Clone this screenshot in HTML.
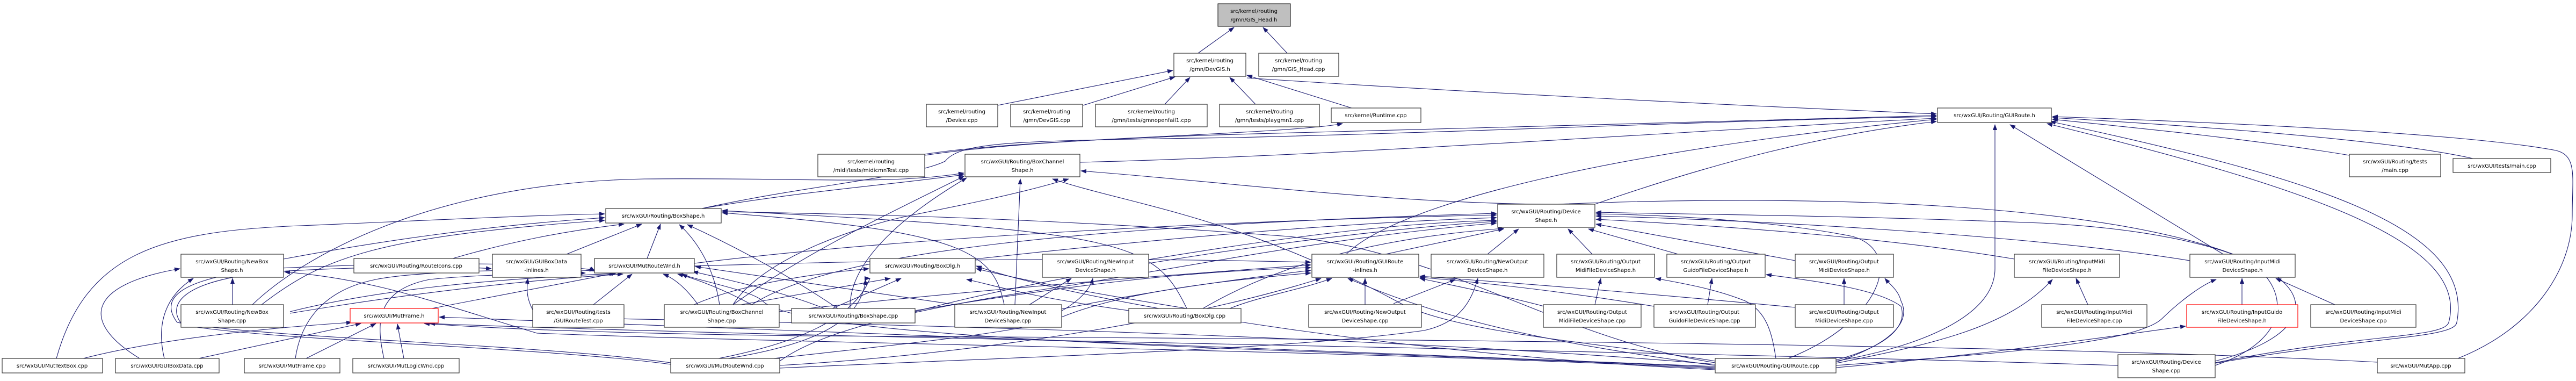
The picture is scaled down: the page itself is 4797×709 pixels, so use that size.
<!DOCTYPE html>
<html><head><meta charset="utf-8"><style>
html,body{margin:0;padding:0;background:#fff;}
svg{display:block;}
text{font-family:"DejaVu Sans","Liberation Sans",sans-serif;font-size:10px;fill:#000;}
</style></head><body>
<svg width="4797" height="709" viewBox="0 0 4797 709" xmlns="http://www.w3.org/2000/svg">
<defs><marker id="a" markerWidth="11" markerHeight="8" refX="10" refY="4" orient="auto" markerUnits="userSpaceOnUse"><path d="M0,0 L11,4 L0,8 z" fill="#191970"/></marker></defs>
<g fill="none" stroke="#191970" stroke-width="1.1" marker-end="url(#a)">
<!-- top -->
<path d="M2231,99 L2298,51"/>
<path d="M2397,99 L2352,51"/>
<path d="M1858,196 L2184,131"/>
<path d="M2017,196 L2188,143"/>
<path d="M2169,194 L2216,144"/>
<path d="M2338,194 L2290,144"/>
<path d="M2517,201 L2322,140"/>
<path d="M2322,145 C2700,170 3200,195 3606,212"/>
<path d="M1722,289 C1900,262 2200,252 2450,246 C2900,236 3300,222 3606,215"/>
<path d="M1722,287 C1900,258 2400,250 2500,230"/>
<path d="M1307,388 C1500,345 1700,330 1760,300 C1790,262 1900,262 2300,256 C2800,244 3200,224 3606,217"/>
<path d="M1307,388 C1500,355 1650,345 1795,325"/>
<path d="M470,567 C560,480 800,340 1200,333 C1500,330 1650,345 1795,322"/>
<path d="M2011,302 C2500,290 3200,240 3606,220"/>
<path d="M2970,380 C3200,300 3400,250 3606,226"/>
<path d="M2507,473 C2600,380 3000,280 3606,222"/>
<path d="M3419,672 C3600,640 3715,580 3715,500 L3715,232"/>
<path d="M4140,473 L3743,232"/>
<path d="M4125,675 C4400,620 4550,630 4560,600 C4600,450 4300,350 3812,230"/>
<path d="M4125,676 C4420,625 4570,630 4575,600 C4610,420 4300,330 3818,226"/>
<path d="M4375,289 C4200,260 4000,240 3822,222"/>
<path d="M4605,295 C4450,260 4100,235 3822,219"/>
<path d="M4577,667 C4720,610 4790,500 4790,400 C4790,330 4800,290 4760,280 C4600,250 4200,230 3822,217"/>
<!-- BoxChannelShape.h children -->
<path d="M1365,567 C1500,470 1650,400 1795,328"/>
<path d="M1583,574 C1580,480 1700,390 1800,331"/>
<path d="M1890,567 L1900,333"/>
<path d="M3194,672 C3000,640 2700,620 2600,560 C2300,400 2100,380 1960,333"/>
<path d="M4125,680 C4300,620 4250,500 4150,470 C3900,380 3400,360 2900,380 C2600,380 2300,340 2013,318"/>
<path d="M1365,567 C1420,480 1600,420 1700,400 C1800,380 1900,360 1990,333"/>
<!-- BoxShape.h -->
<path d="M105,667 C160,470 300,430 560,420 C800,410 1000,400 1126,398"/>
<path d="M528,482 C700,450 900,420 1126,405"/>
<path d="M843,481 C950,450 1050,430 1162,417"/>
<path d="M1055,473 L1195,417"/>
<path d="M1205,481 L1230,417"/>
<path d="M1340,567 C1330,500 1300,450 1265,418"/>
<path d="M1560,574 C1450,500 1350,450 1280,418"/>
<path d="M1870,567 C1850,470 1800,430 1345,396"/>
<path d="M2210,574 C2150,450 2100,430 1345,392"/>
<path d="M3194,675 C2900,630 2700,470 2400,440 C2000,410 1700,400 1345,394"/>
<path d="M487,567 C600,480 700,440 1126,410"/>
<!-- DeviceShape.h -->
<path d="M1293,490 C1700,440 2300,410 2787,400"/>
<path d="M1816,482 C2200,440 2500,415 2787,405"/>
<path d="M2139,483 C2400,440 2600,415 2787,410"/>
<path d="M1704,580 C2000,500 2500,430 2787,412"/>
<path d="M1400,567 C1550,470 2000,420 2787,397"/>
<path d="M1452,672 C1550,600 1800,560 2000,530 C2300,480 2500,440 2787,415"/>
<path d="M2240,574 C2400,480 2600,440 2800,425"/>
<path d="M2580,473 L2800,426"/>
<path d="M2770,473 L2828,426"/>
<path d="M2965,473 L2920,426"/>
<path d="M3125,473 L2958,426"/>
<path d="M3343,485 L2972,417"/>
<path d="M3751,482 C3500,440 3200,420 2972,408"/>
<path d="M4078,485 C3800,440 3300,410 2972,402"/>
<path d="M4125,672 C4400,600 4300,440 3800,415 C3400,400 3200,400 2972,395"/>
<path d="M3330,667 C3500,600 3550,470 3450,440 C3300,410 3100,400 2972,398"/>
<!-- GUIRoute-inlines.h -->
<path d="M2542,567 L2542,518"/>
<path d="M2290,574 C2350,550 2420,540 2480,518"/>
<path d="M2875,570 C2800,550 2700,530 2644,518"/>
<path d="M3080,570 C2900,540 2750,525 2644,516"/>
<path d="M3343,572 C3000,540 2800,525 2644,514"/>
<path d="M3194,680 C2900,640 2700,600 2510,518"/>
<path d="M1451,580 C1800,540 2200,510 2441,493"/>
<path d="M1704,578 C2000,530 2200,505 2441,498"/>
<path d="M1977,575 C2150,540 2300,520 2441,503"/>
<path d="M1293,495 C1800,480 2100,480 2441,488"/>
<path d="M1452,680 C1800,660 2200,600 2460,518"/>
<!-- output shapes -->
<path d="M2595,565 L2710,520"/>
<path d="M1452,685 C2000,660 2400,650 2652,615 C2720,600 2740,560 2752,518"/>
<path d="M2970,567 L2981,518"/>
<path d="M3307,667 C3300,620 3290,580 3250,560 C3200,540 3150,530 3083,518"/>
<path d="M3180,567 L3188,518"/>
<path d="M3419,670 C3530,640 3550,600 3540,570 C3500,540 3400,525 3289,511"/>
<path d="M3434,567 L3434,518"/>
<path d="M3419,674 C3520,640 3560,600 3540,560 C3535,540 3520,530 3510,518"/>
<path d="M3888,567 L3866,518"/>
<path d="M3419,676 C3600,640 3740,610 3822,520"/>
<path d="M4175,567 L4175,518"/>
<path d="M4348,567 L4238,518"/>
<path d="M3419,680 C3700,660 3980,640 4027,592 C4060,560 4100,530 4127,520"/>
<path d="M3419,684 C3700,660 3900,630 4070,607"/>
<!-- MutFrame.h -->
<path d="M155,667 C300,630 500,610 655,600"/>
<path d="M370,667 L672,602"/>
<path d="M570,667 L700,602"/>
<path d="M752,667 L740,603"/>
<path d="M3194,682 C2500,650 1500,620 818,590"/>
<path d="M3944,680 C3000,650 1500,630 800,602"/>
<path d="M4427,674 C3800,640 2500,630 1500,625 C1100,620 900,610 790,602"/>
<path d="M804,574 L1148,508"/>
<!-- MutRouteWnd.h & GUIBoxData-inlines -->
<path d="M1105,567 L1177,510"/>
<path d="M540,580 C700,540 900,520 1145,509"/>
<path d="M540,583 C800,540 1000,520 1160,510"/>
<path d="M1300,567 C1280,540 1260,520 1235,510"/>
<path d="M1400,567 C1350,540 1300,520 1262,510"/>
<path d="M1535,574 C1450,540 1350,520 1290,505"/>
<path d="M1800,570 C1600,540 1400,510 1295,496"/>
<path d="M1249,675 C1000,640 500,630 330,600 C300,560 320,520 500,500 C700,490 1000,485 1108,503"/>
<path d="M1249,678 C1000,645 520,635 340,605 C310,570 330,520 520,505 C700,495 850,495 915,500"/>
<path d="M3194,678 C2500,620 1500,600 1000,590 C980,560 980,540 983,518"/>
<path d="M550,667 C560,600 600,540 700,520 C800,500 1100,500 1108,505"/>
<path d="M715,667 C700,600 700,540 800,520 C900,510 1000,510 1090,508"/>
<path d="M3194,684 C2500,650 1500,640 1420,560 C1400,540 1290,520 1270,510"/>
<!-- NewBoxShape.h -->
<path d="M433,567 L433,518"/>
<path d="M260,667 C150,600 160,530 335,500"/>
<path d="M306,667 C290,600 310,550 360,518"/>
<path d="M3194,686 C2500,650 1500,640 1000,620 C800,560 700,520 530,506"/>
<!-- BoxDlg.h / NewInputDeviceShape.h -->
<path d="M1249,682 C1400,660 1580,620 1620,518 L1620,518"/>
<path d="M1249,684 C1400,660 1600,640 1612,520"/>
<path d="M1380,567 L1658,518"/>
<path d="M1550,574 L1678,518"/>
<path d="M2102,578 C1900,550 1850,530 1800,520"/>
<path d="M1249,688 C1500,660 1800,630 1900,610 C2000,580 2030,540 2035,518"/>
<path d="M1917,567 L1995,518"/>
<path d="M2210,574 C2000,540 1900,520 1818,500"/>
<path d="M3194,688 C2600,660 2000,560 1818,495"/>
<path d="M1240,600 C1280,560 1400,520 1618,500"/>
<path d="M1977,590 C2100,540 2300,520 2441,508"/>
</g>
<g stroke-width="1">
<!-- nodes -->
<rect x="2268" y="7" width="135" height="42" fill="#bfbfbf" stroke="#000"/>
<text x="2335" y="24" text-anchor="middle">src/kernel/routing</text><text x="2335" y="40" text-anchor="middle">/gmn/GIS_Head.h</text>
</g>
<g fill="#fff" stroke="#333" stroke-width="1.2">
<rect x="2186" y="99" width="134" height="43"/>
<rect x="2344" y="99" width="149" height="43"/>
<rect x="1725" y="194" width="133" height="42"/>
<rect x="1882" y="194" width="134" height="42"/>
<rect x="2040" y="194" width="208" height="42"/>
<rect x="2271" y="194" width="186" height="42"/>
<rect x="2479" y="201" width="167" height="27"/>
<rect x="3608" y="201" width="212" height="27"/>
<rect x="1523" y="287" width="199" height="42"/>
<rect x="1797" y="287" width="214" height="42"/>
<rect x="4375" y="287" width="170" height="42"/>
<rect x="4568" y="295" width="182" height="26"/>
<rect x="1128" y="388" width="215" height="27"/>
<rect x="2789" y="380" width="181" height="43"/>
<rect x="337" y="473" width="191" height="43"/>
<rect x="659" y="481" width="233" height="27"/>
<rect x="917" y="473" width="165" height="43"/>
<rect x="1107" y="481" width="186" height="27"/>
<rect x="1620" y="481" width="196" height="27"/>
<rect x="1941" y="473" width="198" height="43"/>
<rect x="2443" y="473" width="199" height="43"/>
<rect x="2665" y="473" width="210" height="43"/>
<rect x="2899" y="473" width="182" height="43"/>
<rect x="3104" y="473" width="183" height="43"/>
<rect x="3343" y="473" width="183" height="43"/>
<rect x="3751" y="473" width="196" height="43"/>
<rect x="4078" y="473" width="196" height="43"/>
<rect x="337" y="567" width="191" height="42"/>
<rect x="992" y="567" width="170" height="42"/>
<rect x="1237" y="567" width="214" height="42"/>
<rect x="1474" y="574" width="230" height="27"/>
<rect x="1778" y="567" width="199" height="42"/>
<rect x="2102" y="574" width="209" height="27"/>
<rect x="2437" y="567" width="210" height="42"/>
<rect x="2874" y="567" width="182" height="42"/>
<rect x="3080" y="567" width="189" height="42"/>
<rect x="3343" y="567" width="183" height="42"/>
<rect x="3802" y="567" width="196" height="42"/>
<rect x="4303" y="567" width="196" height="42"/>
<rect x="4" y="667" width="187" height="27"/>
<rect x="215" y="667" width="193" height="27"/>
<rect x="455" y="667" width="178" height="27"/>
<rect x="657" y="667" width="198" height="27"/>
<rect x="1249" y="667" width="203" height="27"/>
<rect x="3194" y="667" width="225" height="27"/>
<rect x="3944" y="660" width="181" height="43"/>
<rect x="4427" y="667" width="163" height="27"/>
</g>
<g fill="#fff" stroke="#ff0000" stroke-width="1.2">
<rect x="652" y="574" width="164" height="27"/>
<rect x="4072" y="567" width="207" height="42"/>
</g>
<g text-anchor="middle">
<text x="2253" y="116">src/kernel/routing</text><text x="2253" y="132">/gmn/DevGIS.h</text>
<text x="2418" y="116">src/kernel/routing</text><text x="2418" y="132">/gmn/GIS_Head.cpp</text>
<text x="1791" y="211">src/kernel/routing</text><text x="1791" y="227">/Device.cpp</text>
<text x="1949" y="211">src/kernel/routing</text><text x="1949" y="227">/gmn/DevGIS.cpp</text>
<text x="2144" y="211">src/kernel/routing</text><text x="2144" y="227">/gmn/tests/gmnopenfail1.cpp</text>
<text x="2364" y="211">src/kernel/routing</text><text x="2364" y="227">/gmn/tests/playgmn1.cpp</text>
<text x="2562" y="218">src/kernel/Runtime.cpp</text>
<text x="3714" y="218">src/wxGUI/Routing/GUIRoute.h</text>
<text x="1622" y="304">src/kernel/routing</text><text x="1622" y="320">/midi/tests/midicmnTest.cpp</text>
<text x="1904" y="304">src/wxGUI/Routing/BoxChannel</text><text x="1904" y="320">Shape.h</text>
<text x="4460" y="304">src/wxGUI/Routing/tests</text><text x="4460" y="320">/main.cpp</text>
<text x="4659" y="312">src/wxGUI/tests/main.cpp</text>
<text x="1235" y="405">src/wxGUI/Routing/BoxShape.h</text>
<text x="2879" y="397">src/wxGUI/Routing/Device</text><text x="2879" y="413">Shape.h</text>
<text x="432" y="490">src/wxGUI/Routing/NewBox</text><text x="432" y="506">Shape.h</text>
<text x="775" y="498">src/wxGUI/Routing/RouteIcons.cpp</text>
<text x="999" y="490">src/wxGUI/GUIBoxData</text><text x="999" y="506">-inlines.h</text>
<text x="1200" y="498">src/wxGUI/MutRouteWnd.h</text>
<text x="1718" y="498">src/wxGUI/Routing/BoxDlg.h</text>
<text x="2040" y="490">src/wxGUI/Routing/NewInput</text><text x="2040" y="506">DeviceShape.h</text>
<text x="2542" y="490">src/wxGUI/Routing/GUIRoute</text><text x="2542" y="506">-inlines.h</text>
<text x="2770" y="490">src/wxGUI/Routing/NewOutput</text><text x="2770" y="506">DeviceShape.h</text>
<text x="2990" y="490">src/wxGUI/Routing/Output</text><text x="2990" y="506">MidiFileDeviceShape.h</text>
<text x="3195" y="490">src/wxGUI/Routing/Output</text><text x="3195" y="506">GuidoFileDeviceShape.h</text>
<text x="3434" y="490">src/wxGUI/Routing/Output</text><text x="3434" y="506">MidiDeviceShape.h</text>
<text x="3849" y="490">src/wxGUI/Routing/InputMidi</text><text x="3849" y="506">FileDeviceShape.h</text>
<text x="4176" y="490">src/wxGUI/Routing/InputMidi</text><text x="4176" y="506">DeviceShape.h</text>
<text x="432" y="584">src/wxGUI/Routing/NewBox</text><text x="432" y="600">Shape.cpp</text>
<text x="734" y="591">src/wxGUI/MutFrame.h</text>
<text x="1077" y="584">src/wxGUI/Routing/tests</text><text x="1077" y="600">/GUIRouteTest.cpp</text>
<text x="1344" y="584">src/wxGUI/Routing/BoxChannel</text><text x="1344" y="600">Shape.cpp</text>
<text x="1589" y="591">src/wxGUI/Routing/BoxShape.cpp</text>
<text x="1877" y="584">src/wxGUI/Routing/NewInput</text><text x="1877" y="600">DeviceShape.cpp</text>
<text x="2206" y="591">src/wxGUI/Routing/BoxDlg.cpp</text>
<text x="2542" y="584">src/wxGUI/Routing/NewOutput</text><text x="2542" y="600">DeviceShape.cpp</text>
<text x="2965" y="584">src/wxGUI/Routing/Output</text><text x="2965" y="600">MidiFileDeviceShape.cpp</text>
<text x="3174" y="584">src/wxGUI/Routing/Output</text><text x="3174" y="600">GuidoFileDeviceShape.cpp</text>
<text x="3434" y="584">src/wxGUI/Routing/Output</text><text x="3434" y="600">MidiDeviceShape.cpp</text>
<text x="3900" y="584">src/wxGUI/Routing/InputMidi</text><text x="3900" y="600">FileDeviceShape.cpp</text>
<text x="4175" y="584">src/wxGUI/Routing/InputGuido</text><text x="4175" y="600">FileDeviceShape.h</text>
<text x="4401" y="584">src/wxGUI/Routing/InputMidi</text><text x="4401" y="600">DeviceShape.cpp</text>
<text x="97" y="684">src/wxGUI/MutTextBox.cpp</text>
<text x="311" y="684">src/wxGUI/GUIBoxData.cpp</text>
<text x="544" y="684">src/wxGUI/MutFrame.cpp</text>
<text x="756" y="684">src/wxGUI/MutLogicWnd.cpp</text>
<text x="1350" y="684">src/wxGUI/MutRouteWnd.cpp</text>
<text x="3306" y="684">src/wxGUI/Routing/GUIRoute.cpp</text>
<text x="4034" y="677">src/wxGUI/Routing/Device</text><text x="4034" y="693">Shape.cpp</text>
<text x="4508" y="684">src/wxGUI/MutApp.cpp</text>
</g>
</svg>
</body></html>
